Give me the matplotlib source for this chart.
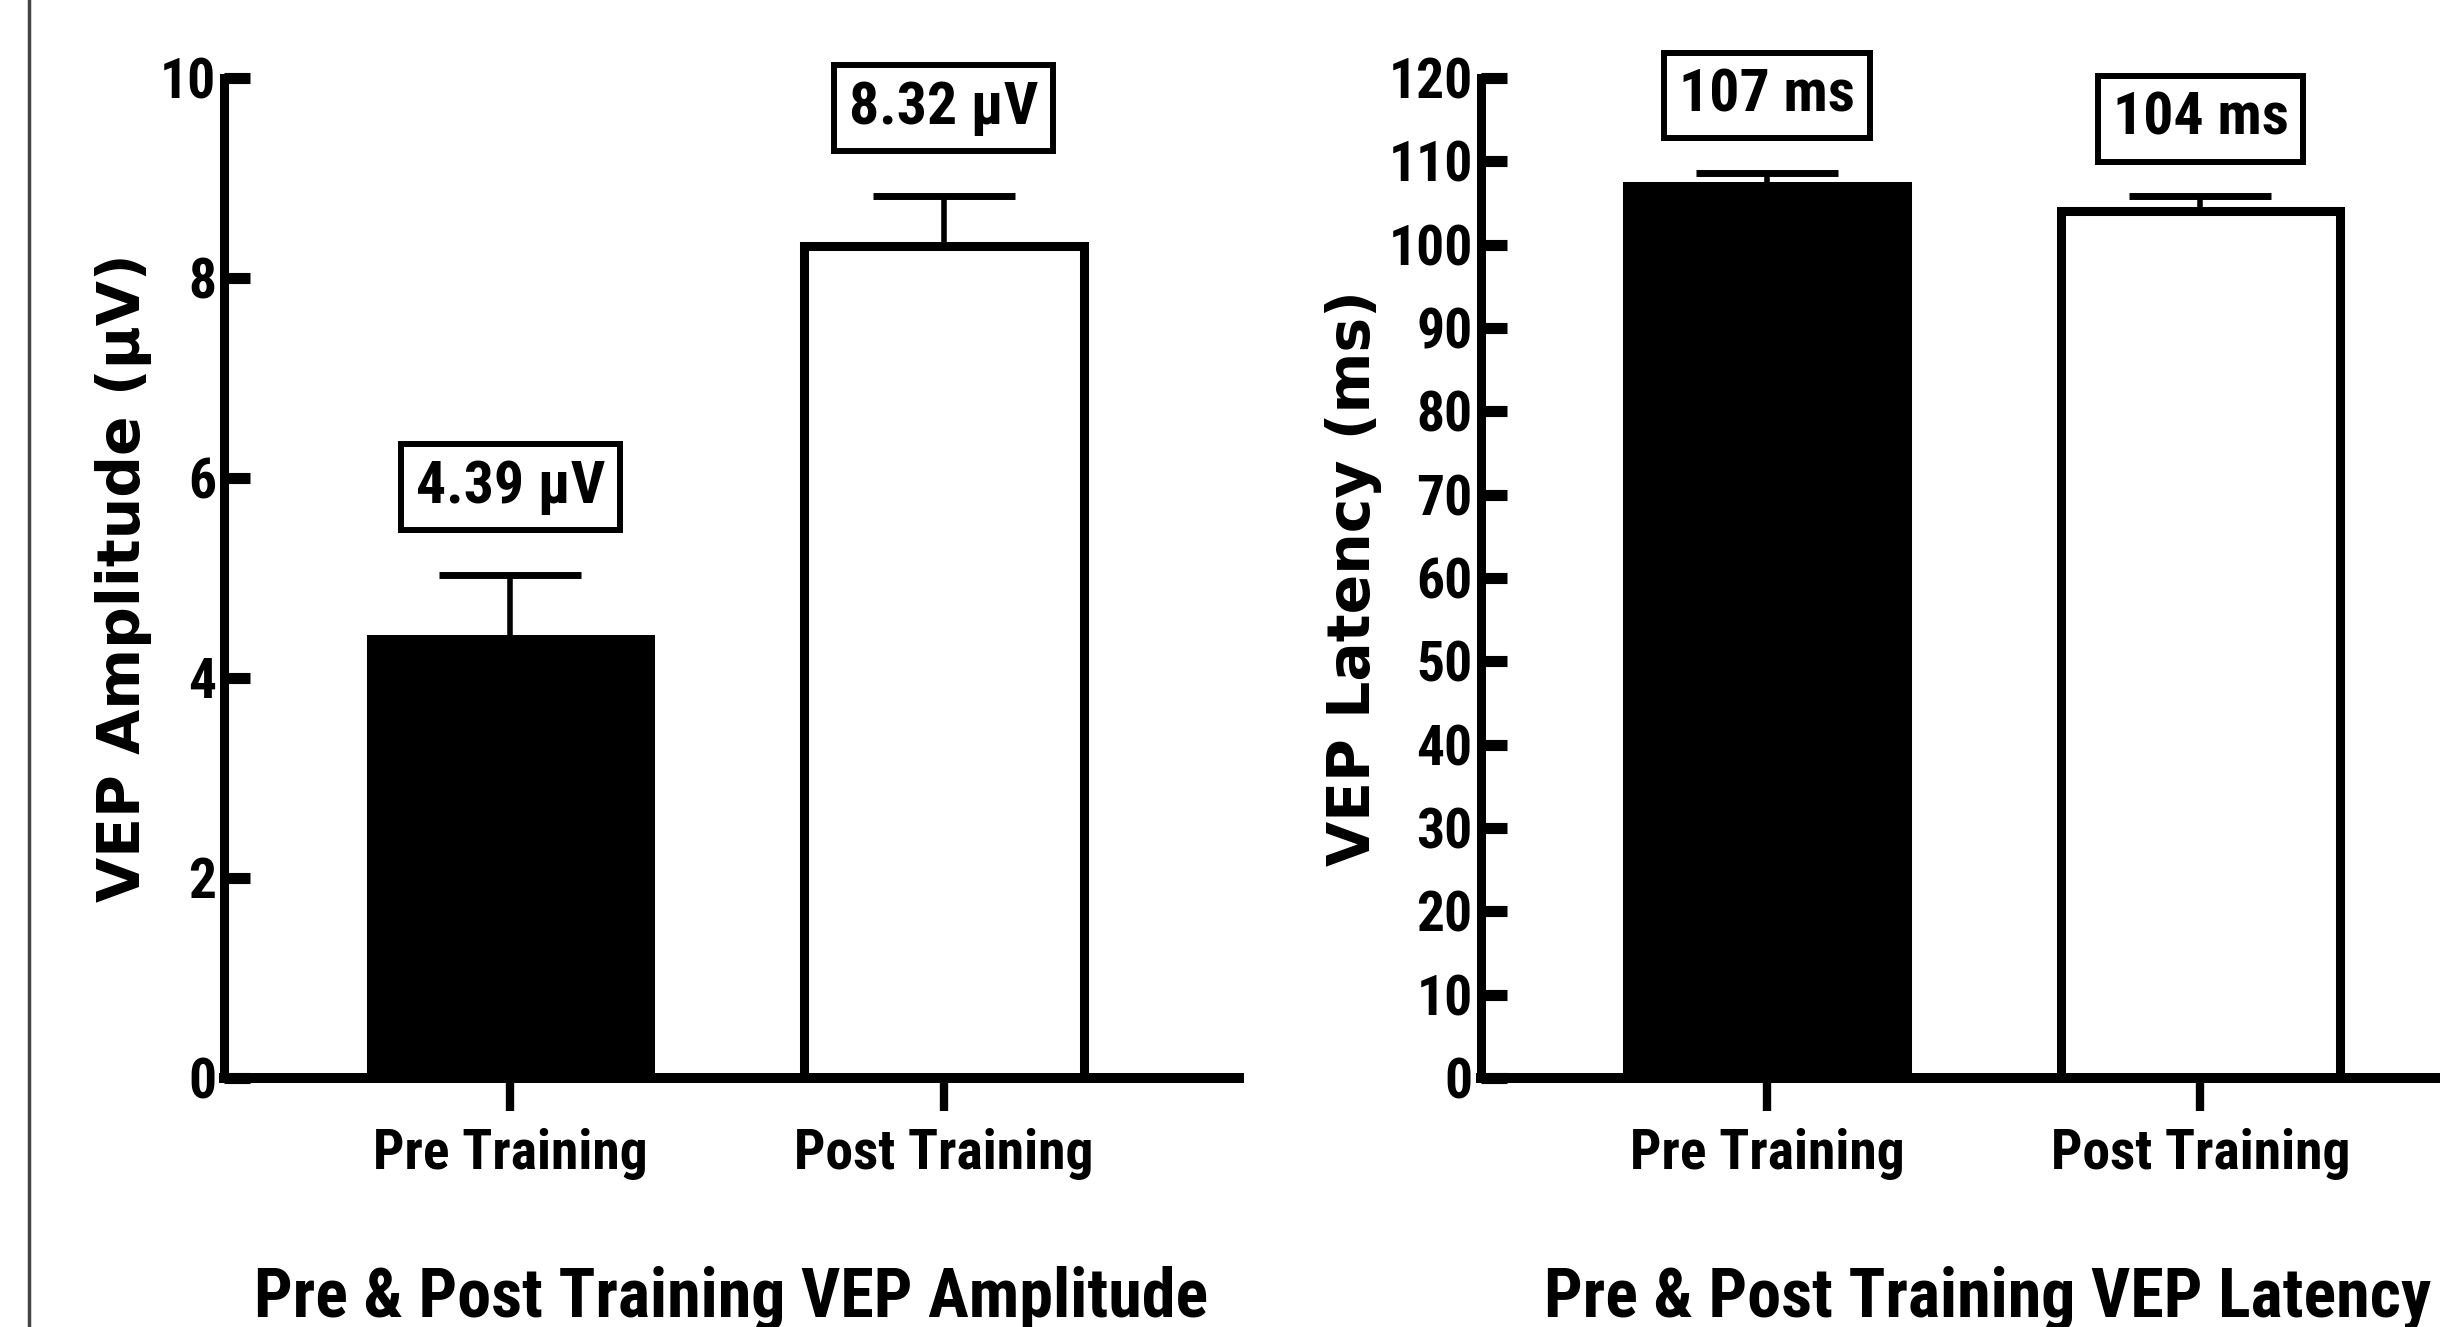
import matplotlib
matplotlib.use("Agg")
from matplotlib import pyplot as plt
import numpy as np

groups = ["Pre Training", "Post Training"]
bar_colors = ["black", "white"]

amp_mean = [4.39, 8.32]
amp_err = [0.64, 0.50]
amp_labels = ["4.39 µV", "8.32 µV"]

lat_mean = [107, 104]
lat_err = [1.6, 1.8]
lat_labels = ["107 ms", "104 ms"]

NARROW = ['Liberation Sans Narrow', 'Roboto Condensed', 'Open Sans Condensed',
          'DejaVu Sans']
plt.rcParams['font.family'] = NARROW
plt.rcParams['font.weight'] = 'bold'
plt.rcParams['font.stretch'] = 'condensed'


def draw_panel(ax, means, errs, labels, ylim, yticks, ylabel, title, label_gap, ylabel_x):
    x = np.arange(len(groups))
    ax.bar(x, means, width=0.645, color=bar_colors, edgecolor='black',
           linewidth=6.5, zorder=2)
    ax.errorbar(x, means, yerr=[np.zeros(len(errs)), errs], fmt='none',
                ecolor='black', elinewidth=4, capsize=51, capthick=5, zorder=1)
    for xi, m, e, lab in zip(x, means, errs, labels):
        ax.text(xi, m + e + label_gap, lab, ha='center', va='center',
                fontsize=43, fontweight='bold',
                bbox=dict(boxstyle='square,pad=0.25', fc='white', ec='black', lw=4.3))

    ax.set_xlim(-0.66, 1.68)
    ax.set_ylim(*ylim)
    ax.set_yticks(yticks)
    ax.set_xticks(x)
    ax.set_xticklabels(groups)

    for side in ['top', 'right']:
        ax.spines[side].set_visible(False)
    ax.spines['left'].set_linewidth(6.5)
    ax.spines['bottom'].set_linewidth(7.2)
    ax.spines['left'].set_capstyle('projecting')
    ax.spines['bottom'].set_capstyle('projecting')

    ax.tick_params(axis='y', direction='in', length=19, width=8, pad=6, labelsize=40)
    ax.tick_params(axis='x', direction='out', length=24, width=6, pad=12, labelsize=40)

    ax.set_ylabel(ylabel, family='DejaVu Sans', fontstretch='normal',
                  fontsize=42, fontweight='bold')
    ax.yaxis.set_label_coords(ylabel_x, 0.5)
    ax.set_xlabel(title, fontsize=49, fontweight='bold')
    ax.xaxis.set_label_coords(0.5, -0.188)


fig = plt.figure(figsize=(24.4, 13.27), dpi=100)
ax1 = fig.add_axes([0.092, 0.18765, 0.4156, 0.7536])
ax2 = fig.add_axes([0.607, 0.18765, 0.4156, 0.7536])

draw_panel(ax1, amp_mean, amp_err, amp_labels, (0, 10), np.arange(0, 11, 2),
           "VEP Amplitude (µV)", "Pre & Post Training VEP Amplitude", 0.88, -0.0715)
draw_panel(ax2, lat_mean, lat_err, lat_labels, (0, 120), np.arange(0, 121, 10),
           "VEP Latency (ms)", "Pre & Post Training VEP Latency", 9.3, -0.0976)

# page border on the left
fig.add_artist(plt.Line2D([0.0117, 0.0117], [0, 1], color='#444444', lw=2.5,
                          transform=fig.transFigure))

fig.savefig("out.png", dpi=100)
